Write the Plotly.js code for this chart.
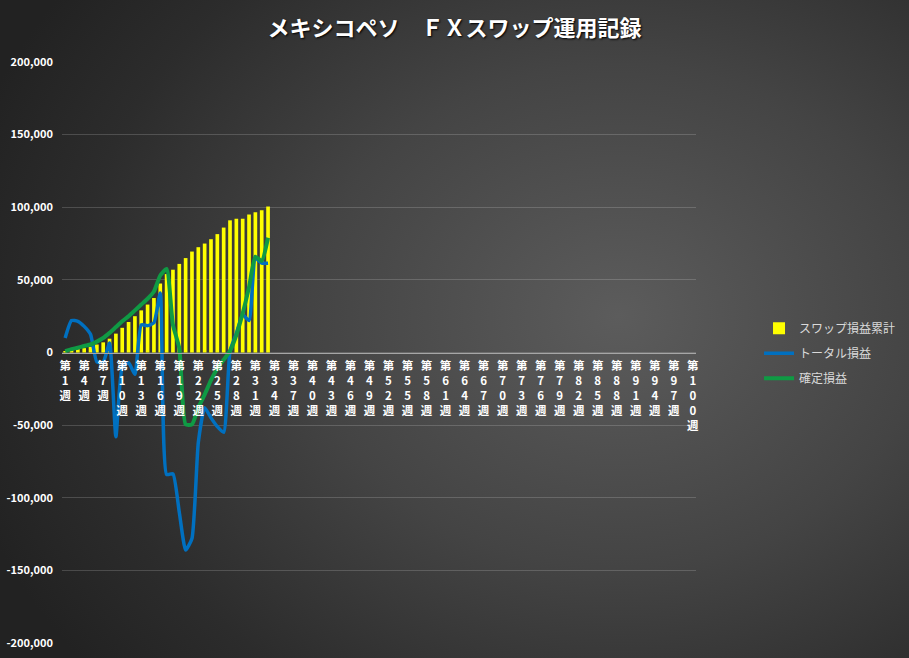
<!DOCTYPE html>
<html>
<head>
<meta charset="utf-8">
<script src="https://cdn.plot.ly/plotly-3.0.1.min.js"></script>
<style>
  body { margin: 0; background: #262626; }
  #chart {
    width: 909px;
    height: 658px;
    background: radial-gradient(ellipse 75% 85% at 68% 48%, #5c5c5c 0%, #444444 45%, #2c2c2c 80%, #222222 100%);
  }
</style>
</head>
<body>
<div id="chart"></div>
<script>
// 週ラベル (第1週〜第100週)
const weeks = Array.from({ length: 100 }, (_, i) => `第${i + 1}週`);
const weekNums = [1, 4, 7, 10, 13, 16, 19, 22, 25, 28, 31, 34, 37, 40, 43, 46, 49,
  52, 55, 58, 61, 64, 67, 70, 73, 76, 79, 82, 85, 88, 91, 94, 97, 100];

// データ (第1週〜第33週)
const swapTotal = [1000, 1800, 2300, 3000, 4000, 5500, 7000, 9500, 13000, 17000,
  21000, 25000, 29000, 33000, 37500, 47500, 54000, 57000, 61000, 65000,
  69500, 72500, 75000, 78000, 81500, 86000, 91000, 92000, 92000, 95000,
  96500, 98000, 100500];
const totalPL = [10000, 22000, 21500, 18000, 12500, -6500, -6500, 6500, -58000, -10000,
  -7000, -15000, 19000, 18500, 20500, 41000, -84000, -83500, -110000, -136000,
  -128000, -62000, -38000, -45000, -51000, -55000, 1000, 13000, 26000, 22000,
  65000, 61500, 61500];
const realizedPL = [1000, 2300, 3300, 4500, 5500, 7500, 10000, 13500, 17500, 21500,
  25000, 29000, 33000, 37000, 42000, 53000, 57500, 19000, 3000, -49500,
  -49500, -38000, -29000, -19000, -11000, -5000, 1000, 12000, 27000, 45000,
  66000, 63000, 79000];

const yTicks = [-200000, -150000, -100000, -50000, 0, 50000, 100000, 150000, 200000];

const dataWeeks = weeks.slice(0, swapTotal.length);
const tickVals = weekNums.map((n) => weeks[n - 1]);
const tickText = weekNums.map((n) => ["第", ...String(n).split(""), "週"].join("<br>"));

const jp = '"Noto Sans CJK JP", "Noto Sans", sans-serif';

Plotly.newPlot(
  "chart",
  [
    {
      name: "スワップ損益累計",
      type: "bar",
      x: dataWeeks,
      y: swapTotal,
      marker: { color: "#ffff00" },
      legendgroup: "a",
      hoverinfo: "skip",
    },
    {
      name: "トータル損益",
      type: "scatter",
      mode: "lines",
      x: dataWeeks,
      y: totalPL,
      line: { color: "#0070c0", width: 3.5, shape: "spline", smoothing: 0.5 },
      legendgroup: "b",
      hoverinfo: "skip",
    },
    {
      name: "確定損益",
      type: "scatter",
      mode: "lines",
      x: dataWeeks,
      y: realizedPL,
      line: { color: "#0f9a44", width: 4, shape: "spline", smoothing: 0.5 },
      legendgroup: "c",
      hoverinfo: "skip",
    },
  ],
  {
    width: 909,
    height: 658,
    margin: { l: 62, r: 213, t: 62, b: 15 },
    paper_bgcolor: "rgba(0,0,0,0)",
    plot_bgcolor: "rgba(0,0,0,0)",
    bargap: 0.42,
    title: {
      text: "メキシコペソ　ＦＸスワップ運用記録",
      x: 0.5,
      xref: "container",
      y: 0.957,
      yref: "container",
      yanchor: "middle",
      font: { family: jp, size: 22, color: "#ffffff", weight: "bold", shadow: "1px 1px 2px #000000" },
    },
    showlegend: true,
    legend: {
      xref: "container",
      yref: "container",
      x: 0.835,
      xanchor: "left",
      y: 0.463,
      yanchor: "middle",
      bgcolor: "rgba(0,0,0,0)",
      traceorder: "grouped",
      tracegroupgap: 6,
      font: { family: jp, size: 12, color: "#d9d9d9" },
    },
    xaxis: {
      type: "category",
      categoryorder: "array",
      categoryarray: weeks,
      range: [-0.5, weeks.length - 0.5],
      anchor: "free",
      position: 0.5,
      showgrid: false,
      zeroline: false,
      showline: true,
      linecolor: "#a6a6a6",
      linewidth: 1,
      ticks: "",
      tickmode: "array",
      tickvals: tickVals,
      ticktext: tickText,
      tickangle: 0,
      ticklabelstandoff: 3,
      tickfont: { family: jp, size: 11.5, color: "#ffffff", weight: "bold" },
      fixedrange: true,
    },
    yaxis: {
      range: [-200000, 200000],
      tickmode: "array",
      tickvals: yTicks,
      ticktext: yTicks.map((v) => v.toLocaleString("en-US")),
      showgrid: true,
      gridcolor: "rgba(255,255,255,0.17)",
      gridwidth: 1,
      zeroline: false,
      showline: false,
      ticks: "",
      ticklabelstandoff: 8,
      tickfont: { family: jp, size: 11, color: "#ffffff", weight: "bold" },
      fixedrange: true,
    },
  },
  { displayModeBar: false, staticPlot: true }
);
</script>
</body>
</html>
